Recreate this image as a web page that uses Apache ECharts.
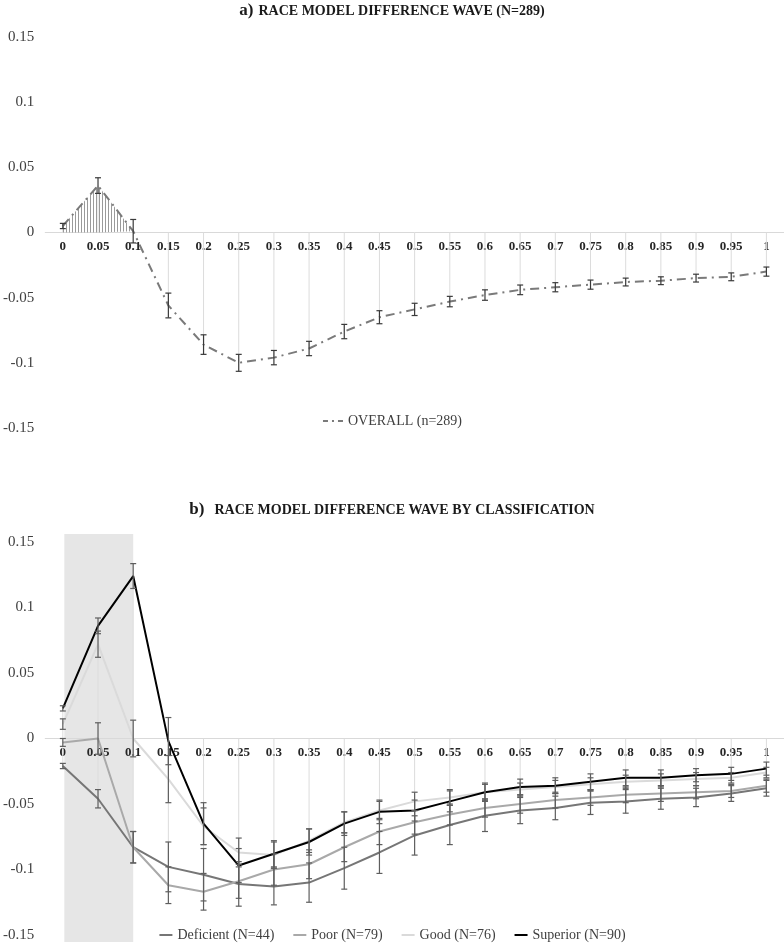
<!DOCTYPE html>
<html><head><meta charset="utf-8">
<script src="https://cdn.jsdelivr.net/npm/echarts@6/dist/echarts.min.js"></script>
<style>html,body{margin:0;padding:0;background:#fff}#c{width:784px;height:945px}</style>
</head><body><div id="c"></div>
<script>
const categories = ['0','0.05','0.1','0.15','0.2','0.25','0.3','0.35','0.4','0.45','0.5','0.55','0.6','0.65','0.7','0.75','0.8','0.85','0.9','0.95','1'];
const yTicks = [-0.15, -0.1, -0.05, 0, 0.05, 0.1, 0.15];

// Panel a
const overall    = [0.005, 0.036, 0.001, -0.056, -0.086, -0.100, -0.096, -0.089, -0.076, -0.065, -0.059, -0.053, -0.048, -0.044, -0.042, -0.040, -0.038, -0.037, -0.035, -0.034, -0.030];
const overallErr = [0.002, 0.006, 0.009, 0.0095, 0.0075, 0.0065, 0.0055, 0.0055, 0.0055, 0.005, 0.0047, 0.004, 0.004, 0.0037, 0.0035, 0.0035, 0.003, 0.003, 0.003, 0.003, 0.0035];
const hatchCategories = ['0','0.05','0.1'];

// Panel b
const deficient    = [-0.021, -0.046, -0.083, -0.098, -0.104, -0.111, -0.113, -0.110, -0.099, -0.087, -0.074, -0.066, -0.059, -0.055, -0.053, -0.049, -0.048, -0.046, -0.045, -0.042, -0.038];
const deficientErr = [0.002, 0.007, 0.012, 0.019, 0.020, 0.017, 0.014, 0.015, 0.016, 0.016, 0.015, 0.015, 0.012, 0.010, 0.009, 0.009, 0.009, 0.008, 0.007, 0.006, 0.006];
const poor         = [-0.003, 0.000, -0.083, -0.112, -0.117, -0.109, -0.100, -0.096, -0.083, -0.071, -0.064, -0.058, -0.053, -0.050, -0.047, -0.045, -0.043, -0.042, -0.041, -0.040, -0.036];
const poorErr      = [0.003, 0.012, 0.012, 0.014, 0.014, 0.013, 0.012, 0.011, 0.011, 0.010, 0.009, 0.008, 0.007, 0.007, 0.006, 0.006, 0.006, 0.006, 0.005, 0.005, 0.005];
const good         = [0.011, 0.072, 0.000, -0.031, -0.067, -0.087, -0.089, -0.078, -0.064, -0.055, -0.048, -0.045, -0.041, -0.039, -0.037, -0.035, -0.033, -0.032, -0.031, -0.030, -0.026];
const goodErr      = [0.004, 0.010, 0.014, 0.018, 0.014, 0.011, 0.010, 0.009, 0.008, 0.007, 0.007, 0.006, 0.006, 0.005, 0.005, 0.005, 0.005, 0.005, 0.005, 0.004, 0.004];
const superior     = [0.023, 0.086, 0.124, -0.002, -0.065, -0.097, -0.088, -0.079, -0.065, -0.056, -0.055, -0.048, -0.041, -0.037, -0.036, -0.033, -0.030, -0.030, -0.028, -0.027, -0.023];
const superiorErr  = [0.002, 0.006, 0.0095, 0.018, 0.016, 0.013, 0.010, 0.010, 0.009, 0.009, 0.008, 0.008, 0.007, 0.006, 0.006, 0.006, 0.006, 0.006, 0.005, 0.005, 0.005];
const shadeRange = ['0', '0.1'];

const groupNames = ['Deficient (N=44)', 'Poor (N=79)', 'Good (N=76)', 'Superior (N=90)'];
const groupValues = [deficient, poor, good, superior];
const groupErrors = [deficientErr, poorErr, goodErr, superiorErr];
const groupColors = ['#767676', '#a9a9a9', '#dadada', '#000000'];

const SERIF = '"Liberation Serif", "Times New Roman", serif';
const GRID_H = [391, 393];

// hatch pattern
const pat = document.createElement('canvas');
pat.width = 3; pat.height = 4;
const pctx = pat.getContext('2d');
pctx.fillStyle = '#9a9a9a';
pctx.fillRect(0, 0, 1, 4);

function errData(vals, errs) {
  return vals.map((v, i) => [i, v - errs[i], v + errs[i]]);
}
function dropData(arrays) {
  return categories.map((c, i) => {
    const vs = arrays.map(a => a[i]);
    return [i, Math.min(0, ...vs), Math.max(0, ...vs)];
  });
}
function errRender(color) {
  return function (params, api) {
    const x = api.value(0);
    const p1 = api.coord([x, api.value(2)]);
    const p2 = api.coord([x, api.value(1)]);
    const w = 3;
    const st = { stroke: color, lineWidth: 1.2 };
    return { type: 'group', children: [
      { type: 'line', shape: { x1: p1[0], y1: p1[1], x2: p2[0], y2: p2[1] }, style: st },
      { type: 'line', shape: { x1: p1[0] - w, y1: p1[1], x2: p1[0] + w, y2: p1[1] }, style: st },
      { type: 'line', shape: { x1: p2[0] - w, y1: p2[1], x2: p2[0] + w, y2: p2[1] }, style: st }
    ]};
  };
}
function dropRender(params, api) {
  const x = api.value(0);
  const p1 = api.coord([x, api.value(2)]);
  const p2 = api.coord([x, api.value(1)]);
  return { type: 'line', shape: { x1: p1[0], y1: p1[1], x2: p2[0], y2: p2[1] }, style: { stroke: '#dcdcdc', lineWidth: 1 } };
}

function xAxisCfg(gi) {
  // the y range is symmetric around 0, so the zero line sits at half the grid height
  return {
    type: 'category', gridIndex: gi, data: categories, boundaryGap: true,
    position: 'bottom', offset: -GRID_H[gi] / 2,
    axisLine: { onZero: false, lineStyle: { color: '#d9d9d9', width: 1 } },
    axisTick: { show: false },
    axisLabel: { interval: 0, margin: 8, fontFamily: SERIF, fontWeight: 'bold', fontSize: 13, color: '#262626' },
    splitLine: { show: false }
  };
}
function yAxisCfg(gi) {
  return {
    type: 'value', gridIndex: gi, min: yTicks[0], max: yTicks[yTicks.length - 1], interval: 0.05,
    axisLine: { show: false }, axisTick: { show: false }, splitLine: { show: false },
    axisLabel: { fontFamily: SERIF, fontSize: 15, color: '#404040', margin: 11,
      formatter: v => String(+v.toFixed(2)) }
  };
}

const series = [];
// Panel a
series.push({ type: 'custom', xAxisIndex: 0, yAxisIndex: 0, data: dropData([overall]), renderItem: dropRender, silent: true, z: 1 });
series.push({ name: 'hatch', type: 'line', xAxisIndex: 0, yAxisIndex: 0, symbol: 'none',
  data: overall.map((v, i) => hatchCategories.includes(categories[i]) ? v : '-'),
  lineStyle: { width: 0 }, areaStyle: { color: { image: pat, repeat: 'repeat' }, opacity: 1 }, z: 1, silent: true });
series.push({ name: 'OVERALL (n=289)', type: 'line', xAxisIndex: 0, yAxisIndex: 0, symbol: 'none', data: overall,
  lineStyle: { color: '#7a7a7a', width: 2, type: [9, 5, 2, 5] }, itemStyle: { color: '#7a7a7a' }, z: 3 });
series.push({ type: 'custom', xAxisIndex: 0, yAxisIndex: 0, data: errData(overall, overallErr), renderItem: errRender('#3a3a3a'), silent: true, z: 4 });

// Panel b
series.push({ type: 'custom', xAxisIndex: 1, yAxisIndex: 1, data: [[categories.indexOf(shadeRange[0]), categories.indexOf(shadeRange[1])]],
  renderItem: function (params, api) {
    const a = api.coord([api.value(0), yTicks[yTicks.length - 1]]);
    const b = api.coord([api.value(1), yTicks[0]]);
    return { type: 'rect', shape: { x: a[0] + 1.5, y: a[1] - 8, width: b[0] - a[0] - 1.5, height: b[1] - a[1] + 15 }, style: { fill: '#e6e6e6' } };
  }, clip: false, silent: true, z: 0 });
series.push({ type: 'custom', xAxisIndex: 1, yAxisIndex: 1, data: dropData(groupValues), renderItem: dropRender, silent: true, z: 1 });
groupNames.forEach((n, k) => {
  series.push({ name: n, type: 'line', xAxisIndex: 1, yAxisIndex: 1, symbol: 'none', data: groupValues[k],
    lineStyle: { color: groupColors[k], width: 2 }, itemStyle: { color: groupColors[k] }, z: 3 + k });
});
groupNames.forEach((n, k) => {
  series.push({ type: 'custom', xAxisIndex: 1, yAxisIndex: 1, data: errData(groupValues[k], groupErrors[k]),
    renderItem: errRender('#5e5e5e'), silent: true, z: 8 });
});

const titleRich = {
  a: { fontFamily: SERIF, fontWeight: 'bold', fontSize: 17, color: '#1a1a1a' },
  b: { fontFamily: SERIF, fontWeight: 'bold', fontSize: 14, color: '#1a1a1a' }
};
const option = {
  animation: false,
  backgroundColor: '#fff',
  title: [
    { text: '{a|a)} {b|RACE MODEL DIFFERENCE WAVE (N=289)}', left: 'center', top: -3, textStyle: { rich: titleRich } },
    { text: '{a|b)}  {b|RACE MODEL DIFFERENCE WAVE BY CLASSIFICATION}', left: 'center', top: 496, textStyle: { rich: titleRich } }
  ],
  legend: [
    { data: [{ name: 'OVERALL (n=289)', lineStyle: { type: [5, 4, 2, 4], width: 2 } }], top: 409, left: 'center', itemWidth: 20, itemHeight: 10,
      itemStyle: { opacity: 0 },
      textStyle: { fontFamily: SERIF, fontSize: 14, color: '#404040' } },
    { data: groupNames, top: 923, left: 'center', itemWidth: 13, itemHeight: 10, itemGap: 18,
      itemStyle: { opacity: 0 },
      textStyle: { fontFamily: SERIF, fontSize: 14, color: '#404040' } }
  ],
  grid: [
    { left: 42, width: 748, top: 37, height: GRID_H[0] },
    { left: 44, width: 746, top: 542, height: GRID_H[1] }
  ],
  xAxis: [xAxisCfg(0), xAxisCfg(1)],
  yAxis: [yAxisCfg(0), yAxisCfg(1)],
  series: series
};
const chart = echarts.init(document.getElementById('c'));
chart.setOption(option);
</script></body></html>
